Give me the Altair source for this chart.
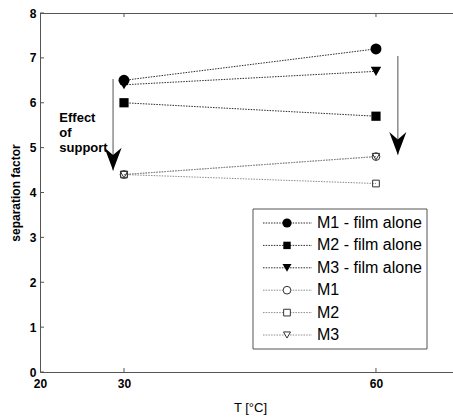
import altair as alt
import pandas as pd

# ---------------- data ----------------
temps = [30, 60]
series_names = ["M1 - film alone", "M2 - film alone", "M3 - film alone", "M1", "M2", "M3"]
m1_film = [6.5, 7.2]
m2_film = [6.0, 5.7]
m3_film = [6.4, 6.7]
m1_supp = [4.4, 4.8]
m2_supp = [4.4, 4.2]
m3_supp = [4.4, 4.8]
series_values = [m1_film, m2_film, m3_film, m1_supp, m2_supp, m3_supp]

x_tick_values = [20, 30, 60]
y_tick_values = [0, 1, 2, 3, 4, 5, 6, 7, 8]

# annotation arrows ("Effect of support")
arrow_x = [28.7, 62.6]
arrow_top = [6.53, 7.04]
arrow_tip = [4.49, 4.84]
note_x = [22.3]
note_y = [5.67]
note_text = ["Effect\nof\nsupport"]

# ---------------- style ----------------
W, H = 413, 359
FONT = "Liberation Sans"
shapes = ["circle", "square", "triangle-down", "circle", "square", "triangle-down"]
filled = [True, True, True, False, False, False]
sizes = [120, 85, 110, 60, 45, 55]
leg_sizes = [85, 55, 80, 60, 45, 50]
line_colors = ["#2a2a2a"] * 3 + ["#8c8c8c"] * 3
ARROW_HEAD = "M0,0 L-0.75,-2 L0,-1.35 L0.75,-2 Z"

xscale = alt.Scale(domain=[20, 69.17], nice=False, zero=False)
yscale = alt.Scale(domain=[0, 8], nice=False, zero=True)
xaxis = alt.Axis(values=x_tick_values, tickSize=0, grid=False, labelFont=FONT,
                 labelFontSize=12, labelFontWeight="bold", labelColor="black",
                 labelPadding=6, domainColor="#555555", title="T [°C]",
                 titleFont=FONT, titleFontSize=13, titleFontWeight="normal",
                 titleColor="black", titleX=210, titleY=35, titleBaseline="middle",
                 titleAlign="center", format="d", labelFlush=False)
yaxis = alt.Axis(values=y_tick_values, tickSize=0, grid=False, labelFont=FONT,
                 labelFontSize=12, labelFontWeight="bold", labelColor="black",
                 labelPadding=4, domainColor="#555555", title="separation factor",
                 titleFont=FONT, titleFontSize=12, titleFontWeight="bold",
                 titleColor="black", titleX=-25, titleY=H / 2, titleAngle=270,
                 titleAlign="center", titleBaseline="middle", format="d")

def X(field="T"):
    return alt.X(f"{field}:Q", scale=xscale, axis=xaxis)

def Y(field="v"):
    return alt.Y(f"{field}:Q", scale=yscale, axis=yaxis)

layers = []

# series lines
for name, vals, col in zip(series_names, series_values, line_colors):
    df = pd.DataFrame({"T": temps, "v": vals, "s": name})
    layers.append(alt.Chart(df).mark_line(color=col, strokeWidth=1, strokeDash=[1.5, 1.2])
                  .encode(x=X(), y=Y()))

# series markers
for name, vals, shp, fl, sz in zip(series_names, series_values, shapes, filled, sizes):
    df = pd.DataFrame({"T": temps, "v": vals, "s": name})
    if fl:
        mk = alt.Chart(df).mark_point(shape=shp, filled=True, size=sz, color="black", opacity=1)
    else:
        mk = alt.Chart(df).mark_point(shape=shp, filled=False, size=sz, color="#333333",
                                      strokeWidth=1, fill="white", fillOpacity=0, opacity=1)
    layers.append(mk.encode(x=X(), y=Y()))

# frame: top border and inward ticks
tick_df_x = pd.DataFrame({"T": x_tick_values[1:]})
tick_df_y = pd.DataFrame({"v": y_tick_values})
layers.append(alt.Chart(tick_df_x).mark_rule(color="#555555", strokeWidth=1)
              .encode(x=alt.value(0), x2=alt.value(W), y=alt.value(0.5)))
layers.append(alt.Chart(tick_df_x).mark_rule(color="#555555", strokeWidth=1)
              .encode(x=X(), y=alt.value(0), y2=alt.value(4)))
layers.append(alt.Chart(tick_df_x).mark_rule(color="#555555", strokeWidth=1)
              .encode(x=X(), y=alt.value(H), y2=alt.value(H - 4)))
layers.append(alt.Chart(tick_df_y).mark_rule(color="#555555", strokeWidth=1)
              .encode(y=Y(), x=alt.value(0), x2=alt.value(4)))

# arrows
arr = pd.DataFrame({"x": arrow_x, "top": arrow_top, "tip": arrow_tip})
layers.append(alt.Chart(arr).mark_rule(color="#8c8c8c", strokeWidth=1.5)
              .encode(x=X("x"), y=Y("top"), y2="tip:Q"))
layers.append(alt.Chart(arr).mark_point(shape=ARROW_HEAD, filled=True, size=520,
                                        color="black", opacity=1)
              .encode(x=X("x"), y=Y("tip")))

# note text
note = pd.DataFrame({"x": note_x, "v": note_y, "t": note_text})
layers.append(alt.Chart(note).mark_text(align="left", baseline="middle", font=FONT,
                                        fontSize=13, fontWeight="bold", lineBreak="\n",
                                        lineHeight=15, color="black")
              .encode(x=X("x"), y=Y("v"), text="t:N"))

# legend (drawn manually)
LX0, LX1, LY0, LY1 = 213, 387, 196, 336
box = pd.DataFrame({"k": [0]})
layers.append(alt.Chart(box).mark_rect(fill="white", stroke="#555555", strokeWidth=1)
              .encode(x=alt.value(LX0), x2=alt.value(LX1), y=alt.value(LY0), y2=alt.value(LY1)))
for i, (name, shp, fl, sz, col) in enumerate(zip(series_names, shapes, filled, leg_sizes, line_colors)):
    yy = 210 + i * 22.4
    d = pd.DataFrame({"name": [name]})
    layers.append(alt.Chart(d).mark_rule(color=col, strokeWidth=1, strokeDash=[1.5, 1.2])
                  .encode(x=alt.value(223), x2=alt.value(272), y=alt.value(yy)))
    if fl:
        mk = alt.Chart(d).mark_point(shape=shp, filled=True, size=sz, color="black", opacity=1)
    else:
        mk = alt.Chart(d).mark_point(shape=shp, filled=False, size=sz, color="#333333",
                                     strokeWidth=1, fill="white", fillOpacity=1, opacity=1)
    layers.append(mk.encode(x=alt.value(247), y=alt.value(yy)))
    layers.append(alt.Chart(d).mark_text(align="left", baseline="middle", font=FONT,
                                         fontSize=16, color="black")
                  .encode(x=alt.value(277), y=alt.value(yy), text="name:N"))

chart = alt.layer(*layers).properties(
    width=W, height=H,
    autosize=alt.AutoSizeParams(type="none"),
    padding={"left": 40, "top": 13, "right": 0, "bottom": 45},
    background="white",
).configure_view(stroke=None)

chart.save("out.html", embed_options={"renderer": "svg", "actions": False})
